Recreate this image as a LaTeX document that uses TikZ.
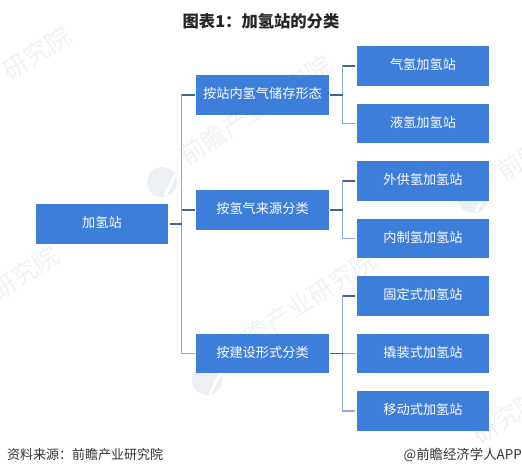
\documentclass[tikz,border=0pt]{standalone}
\usepackage{fontspec}
\setmainfont{Noto Sans CJK SC}
\definecolor{boxblue}{HTML}{3D7EDB}
\definecolor{linedark}{HTML}{3F6496}
\definecolor{linelight}{HTML}{8FAADC}
\definecolor{wm}{HTML}{F0F2F5}
\definecolor{wmlogo}{HTML}{ECEFF3}
\tikzset{
  x=1pt,y=-1pt,
  box/.style={fill=boxblue,draw=none,text=white,minimum width=132.5pt,minimum height=39.5pt,inner sep=0pt,text height=10pt,text depth=3pt,font=\fontsize{13.2}{14}\selectfont,anchor=center},
  trunk/.style={draw=linelight,line width=1.1pt},
  stub/.style={draw=linedark,line width=1.1pt},
  wmark/.style={text=wm,rotate=33,font=\fontsize{25}{26}\selectfont,inner sep=0pt},
  wlogo/.style={fill=wmlogo,draw=none},
  wcut/.style={draw=white,line width=3pt},
  foot/.style={text=black!80,inner sep=0pt},
}
\begin{document}
\begin{tikzpicture}
\useasboundingbox (0,0) rectangle (522,475);
% watermarks
\node[wmark] (w1) at (37,53) {研究院};
\node[wmark] (w2) at (256,110) {前瞻产业研究院};
\node[wmark] (w3) at (25,273) {研究院};
\node[wmark] (w4) at (300,305) {前瞻产业研究院};
\node[wmark] (w5) at (507,417) {研究院};
\node[wmark] (w6) at (520,160) {前瞻};
\foreach \cx/\cy in {162/182,207/380,473/198}{
  \fill[wlogo] (\cx,\cy) circle[radius=15];
  \draw[wcut] (\cx+3,\cy+14) -- (\cx+14,\cy-9);
}
% boxes
\node[box] (root) at (102,224) {加氢站};
\node[box] (m1) at (262.5,95) {按站内氢气储存形态};
\node[box] (m2) at (262.5,210) {按氢气来源分类};
\node[box] (m3) at (262.5,353.5) {按建设形式分类};
\node[box] (l1) at (423,66) {气氢加氢站};
\node[box] (l2) at (423,123.5) {液氢加氢站};
\node[box] (l3) at (423,181) {外供氢加氢站};
\node[box] (l4) at (423,238.5) {内制氢加氢站};
\node[box] (l5) at (423,296) {固定式加氢站};
\node[box] (l6) at (423,353.5) {撬装式加氢站};
\node[box] (l7) at (423,411) {移动式加氢站};
% trunk coordinates
\coordinate (ja) at (181.7,224);
\coordinate (jb) at (342.7,95);
\coordinate (jc) at (342.7,210);
\coordinate (jd) at (342.7,353.5);
% root tree
\draw[trunk] ([xshift=-1.5pt]m1.west) -| (ja) |- ([xshift=-1.5pt]m3.west);
\draw[stub] ([xshift=1.5pt]root.east) -- (ja);
\draw[stub] (ja |- m1.west) -- ([xshift=-1.5pt]m1.west);
\draw[stub] (ja |- m2.west) -- ([xshift=-1.5pt]m2.west);
% m1
\draw[trunk] ([xshift=-1.5pt]l1.west) -| (jb) |- ([xshift=-1.5pt]l2.west);
\draw[stub] ([xshift=1.5pt]m1.east) -- (jb);
\draw[stub] (jb |- l1.west) -- ([xshift=-1.5pt]l1.west);
% m2
\draw[trunk] ([xshift=-1.5pt]l3.west) -| (jc) |- ([xshift=-1.5pt]l4.west);
\draw[stub] ([xshift=1.5pt]m2.east) -- (jc);
\draw[stub] (jc |- l3.west) -- ([xshift=-1.5pt]l3.west);
% m3
\draw[trunk] ([xshift=-1.5pt]l5.west) -| (jd) |- ([xshift=-1.5pt]l7.west);
\draw[trunk] (jd) -- ([xshift=-1.5pt]l6.west);
\draw[stub] ([xshift=1.5pt]m3.east) -- (jd);
\draw[stub] (jd |- l5.west) -- ([xshift=-1.5pt]l5.west);
% text
\node[font=\fontsize{16.3}{17}\selectfont\bfseries,text=black!85,inner sep=0pt] (title) at (261,21) {图表1：加氢站的分类};
\node[foot,anchor=west,font=\fontsize{13}{14}\selectfont] (src) at (7,454.5) {资料来源：前瞻产业研究院};
\node[foot,anchor=east,font=\fontsize{13.4}{14}\selectfont] (cred) at (522,454.5) {@前瞻经济学人APP};
\end{tikzpicture}
\end{document}
